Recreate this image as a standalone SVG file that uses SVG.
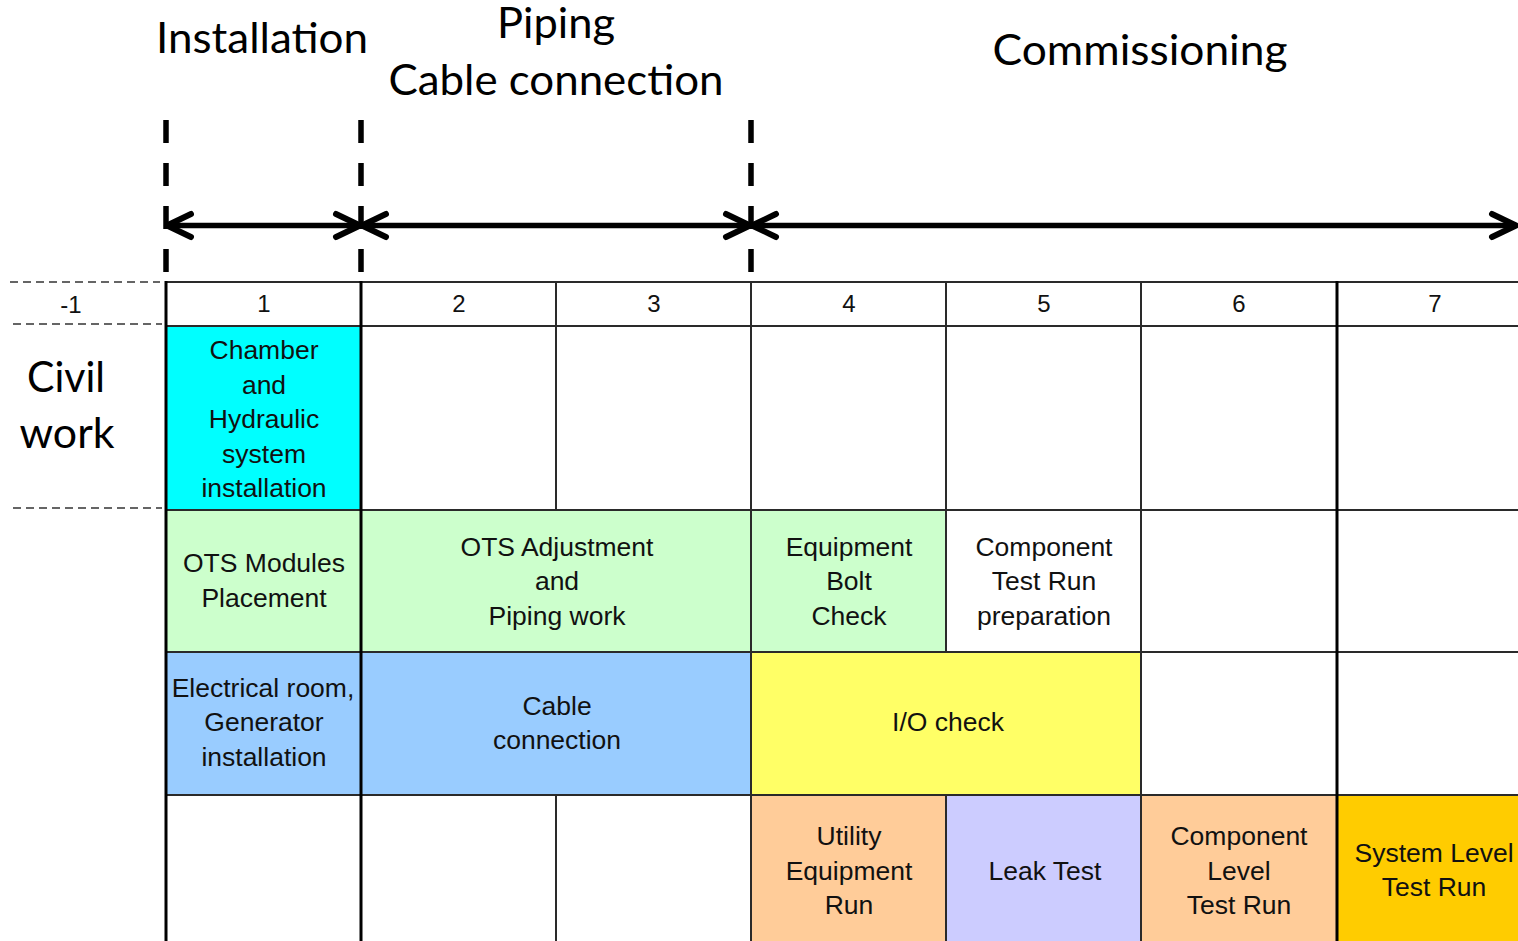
<svg xmlns="http://www.w3.org/2000/svg" width="1518" height="941" viewBox="0 0 1518 941">
  <style>
    .title { font-family: Lato, "Open Sans", sans-serif; font-size: 42px; fill: #000; text-anchor: middle; }
    .cell { font-family: "Liberation Sans", Arial, sans-serif; font-size: 26.5px; fill: #111; text-anchor: middle; }
    .hdr { font-family: "Liberation Sans", Arial, sans-serif; font-size: 24px; fill: #111; text-anchor: middle; }
    .grid { stroke: #2a2a2a; stroke-width: 2; fill: none; }
    .gridb { stroke: #000; stroke-width: 3; fill: none; }
    .phase { stroke: #000; stroke-width: 5.5; stroke-dasharray: 23 20; fill: none; }
    .span { stroke: #000; stroke-width: 5.5; fill: none; marker-start: url(#chev); marker-end: url(#chev); }
    .rowsep { stroke: #333; stroke-width: 1.6; stroke-dasharray: 8 5; fill: none; }
  </style>
  <defs>
    <marker id="chev" markerUnits="userSpaceOnUse" viewBox="-30 -16 34 32" refX="0" refY="0" markerWidth="34" markerHeight="32" orient="auto-start-reverse" overflow="visible">
      <path d="M -24 -11.5 L 0 0 L -24 11.5" fill="none" stroke="#000" stroke-width="6" stroke-linecap="round" stroke-linejoin="round"/>
    </marker>
  </defs>

  <rect x="0" y="0" width="1518" height="941" fill="#fff"/>

  <!-- phase titles -->
  <g id="phase-titles">
    <text class="title" x="262" y="53" textLength="212" lengthAdjust="spacingAndGlyphs">Installation</text>
    <text class="title" x="556" y="38" textLength="118" lengthAdjust="spacingAndGlyphs">Piping</text>
    <text class="title" x="556" y="95" textLength="335" lengthAdjust="spacingAndGlyphs">Cable connection</text>
    <text class="title" x="1140" y="65" textLength="295" lengthAdjust="spacingAndGlyphs">Commissioning</text>
  </g>

  <!-- phase boundaries and spans -->
  <g id="connectors">
    <line class="phase" x1="166" y1="120" x2="166" y2="272"/>
    <line class="phase" x1="361" y1="120" x2="361" y2="272"/>
    <line class="phase" x1="751" y1="120" x2="751" y2="272"/>
    <line class="span" x1="167" y1="225.5" x2="360" y2="225.5"/>
    <line class="span" x1="362" y1="225.5" x2="750" y2="225.5"/>
    <line class="span" x1="752" y1="225.5" x2="1516" y2="225.5"/>
  </g>

  <!-- left row labels -->
  <g id="row-labels">
    <line class="rowsep" x1="10" y1="282" x2="160" y2="282"/>
    <line class="rowsep" x1="13" y1="324" x2="162" y2="324"/>
    <line class="rowsep" x1="13" y1="508" x2="162" y2="508"/>
    <text class="hdr" x="71" y="313">-1</text>
    <text class="title" x="66" y="392" font-size="44" textLength="78" lengthAdjust="spacingAndGlyphs">Civil</text>
    <text class="title" x="67" y="448" font-size="44" textLength="95" lengthAdjust="spacingAndGlyphs">work</text>
  </g>

  <!-- header row -->
  <g id="header">
    <text class="hdr" x="264" y="312">1</text>
    <text class="hdr" x="459" y="312">2</text>
    <text class="hdr" x="654" y="312">3</text>
    <text class="hdr" x="849" y="312">4</text>
    <text class="hdr" x="1044" y="312">5</text>
    <text class="hdr" x="1239" y="312">6</text>
    <text class="hdr" x="1435" y="312">7</text>
  </g>

  <!-- task cells -->
  <g id="chamber">
    <rect x="166" y="326" width="195" height="184" fill="#00FFFF"/>
    <text class="cell" x="264" y="359">Chamber</text>
    <text class="cell" x="264" y="393.5">and</text>
    <text class="cell" x="264" y="428">Hydraulic</text>
    <text class="cell" x="264" y="462.5">system</text>
    <text class="cell" x="264" y="497">installation</text>
  </g>
  <g id="ots-modules">
    <rect x="166" y="510" width="195" height="142" fill="#CCFFCC"/>
    <text class="cell" x="264" y="572">OTS Modules</text>
    <text class="cell" x="264" y="606.5">Placement</text>
  </g>
  <g id="ots-adjustment">
    <rect x="361" y="510" width="390" height="142" fill="#CCFFCC"/>
    <text class="cell" x="557" y="555.5">OTS Adjustment</text>
    <text class="cell" x="557" y="590">and</text>
    <text class="cell" x="557" y="624.5">Piping work</text>
  </g>
  <g id="bolt-check">
    <rect x="751" y="510" width="195" height="142" fill="#CCFFCC"/>
    <text class="cell" x="849" y="555.5">Equipment</text>
    <text class="cell" x="849" y="590">Bolt</text>
    <text class="cell" x="849" y="624.5">Check</text>
  </g>
  <g id="test-run-prep">
    <text class="cell" x="1044" y="555.5">Component</text>
    <text class="cell" x="1044" y="590">Test Run</text>
    <text class="cell" x="1044" y="624.5">preparation</text>
  </g>
  <g id="electrical-room">
    <rect x="166" y="652" width="195" height="143" fill="#99CCFF"/>
    <text class="cell" x="263" y="697">Electrical room,</text>
    <text class="cell" x="264" y="731">Generator</text>
    <text class="cell" x="264" y="765.5">installation</text>
  </g>
  <g id="cable-connection">
    <rect x="361" y="652" width="390" height="143" fill="#99CCFF"/>
    <text class="cell" x="557" y="715">Cable</text>
    <text class="cell" x="557" y="749">connection</text>
  </g>
  <g id="io-check">
    <rect x="751" y="652" width="390" height="143" fill="#FFFF66"/>
    <text class="cell" x="948" y="731">I/O check</text>
  </g>
  <g id="utility-run">
    <rect x="751" y="795" width="195" height="146" fill="#FFCC99"/>
    <text class="cell" x="849" y="845">Utility</text>
    <text class="cell" x="849" y="879.5">Equipment</text>
    <text class="cell" x="849" y="914">Run</text>
  </g>
  <g id="leak-test">
    <rect x="946" y="795" width="195" height="146" fill="#CCCCFF"/>
    <text class="cell" x="1045" y="879.5">Leak Test</text>
  </g>
  <g id="component-test-run">
    <rect x="1141" y="795" width="196" height="146" fill="#FFCC99"/>
    <text class="cell" x="1239" y="845">Component</text>
    <text class="cell" x="1239" y="879.5">Level</text>
    <text class="cell" x="1239" y="914">Test Run</text>
  </g>
  <g id="system-test-run">
    <rect x="1337" y="795" width="181" height="146" fill="#FFCC00"/>
    <text class="cell" x="1434" y="862">System Level</text>
    <text class="cell" x="1434" y="896">Test Run</text>
  </g>

  <!-- table grid -->
  <g id="grid">
    <line class="grid" x1="165" y1="282" x2="1518" y2="282"/>
    <line class="grid" x1="165" y1="326" x2="1518" y2="326"/>
    <line class="grid" x1="165" y1="510" x2="1518" y2="510"/>
    <line class="grid" x1="165" y1="652" x2="1518" y2="652"/>
    <line class="grid" x1="165" y1="795" x2="1518" y2="795"/>
    <line class="gridb" x1="166" y1="281" x2="166" y2="941" stroke-width="2.5"/>
    <line class="gridb" x1="361" y1="281" x2="361" y2="941"/>
    <line class="grid" x1="556" y1="282" x2="556" y2="510"/>
    <line class="grid" x1="556" y1="795" x2="556" y2="941"/>
    <line class="grid" x1="751" y1="282" x2="751" y2="941"/>
    <line class="grid" x1="946" y1="282" x2="946" y2="652"/>
    <line class="grid" x1="946" y1="795" x2="946" y2="941"/>
    <line class="grid" x1="1141" y1="282" x2="1141" y2="941"/>
    <line class="gridb" x1="1337" y1="281" x2="1337" y2="941"/>
  </g>
</svg>
